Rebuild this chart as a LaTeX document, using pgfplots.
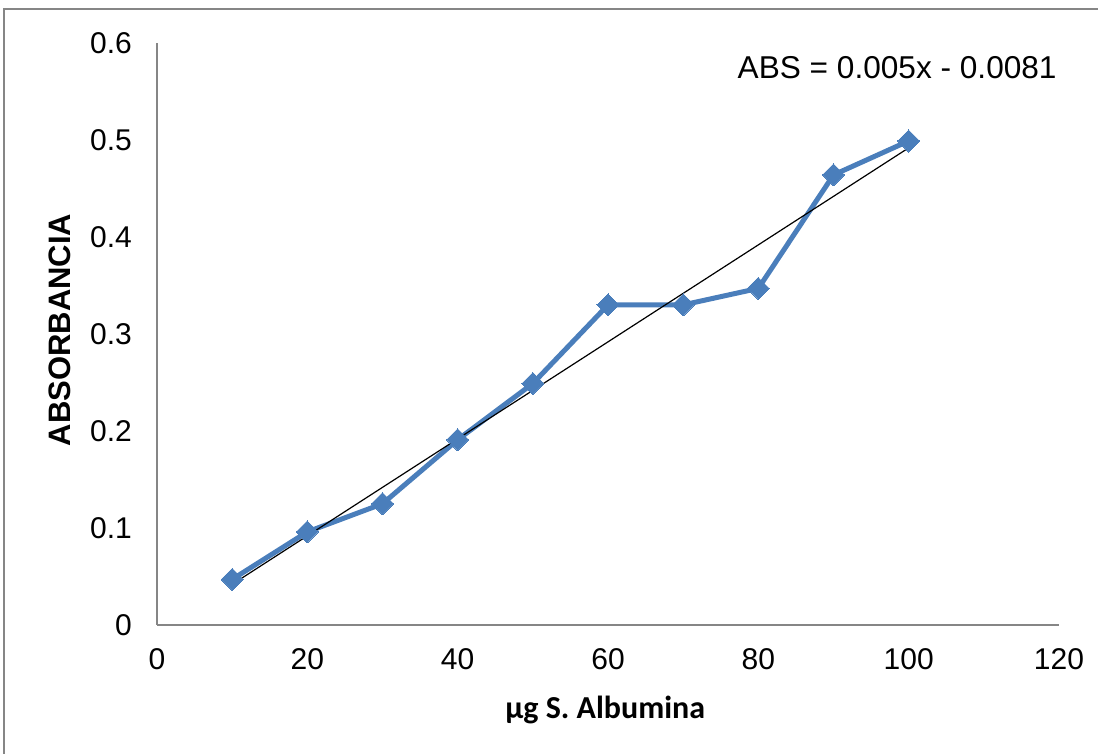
\documentclass[border=0pt]{standalone}
\usepackage{fontspec}
\setmainfont{Liberation Sans}
\newfontfamily\carlito{Carlito}
\usepackage{pgfplots}
\pgfplotsset{compat=1.18}
\definecolor{serie}{HTML}{4A7EBB}
\definecolor{axgray}{HTML}{868686}
\pgfplotstableread{
x y
10 0.047
20 0.096
30 0.125
40 0.191
50 0.249
60 0.330
70 0.330
80 0.347
90 0.464
100 0.499
}\datos
\begin{document}
\begin{tikzpicture}[x=1pt,y=1pt]
\path[use as bounding box] (0,0) rectangle (549,377);
\draw[axgray, line width=1pt] (2,-20) -- (2,372.5) -- (580,372.5);
\begin{axis}[at={(78.5pt,64.5pt)}, anchor=south west, scale only axis,
  width=451pt, height=291pt,
  xmin=0, xmax=120, ymin=0, ymax=0.6,
  xtick={0,20,40,60,80,100,120},
  ytick={0,0.1,0.2,0.3,0.4,0.5,0.6},
  axis x line*=bottom, axis y line*=left,
  axis line style={axgray, line width=0.75pt},
  major tick length=0pt,
  tick label style={font=\fontsize{15}{18}\selectfont},
  /pgf/number format/assume math mode=true,
  yticklabel style={/pgf/number format/fixed, /pgf/number format/precision=1, xshift=-9pt},
  xticklabel style={yshift=-8pt},
  clip=false]
\addplot[serie, line width=2.5pt, mark=square*, mark size=3.9pt, mark options={rotate=45, solid, fill=serie, draw=serie, line width=0pt}] table[x=x,y=y] {\datos};
\addplot[black, line width=0.6pt, no marks] coordinates {(10,0.0419) (100,0.4919)};
\node[anchor=west, font=\fontsize{15.8}{19}\selectfont] at (axis description cs:0.636,0.957) {ABS = 0.005x - 0.0081};
\node[rotate=90, font=\fontsize{15.5}{18}\selectfont\bfseries] at (axis description cs:-0.1075,0.507) {ABSORBANCIA};
\node[font=\fontsize{16}{19}\selectfont\carlito\bfseries] at (axis description cs:0.497,-0.146) {µg S. Albumina};
\end{axis}
\end{tikzpicture}
\end{document}
